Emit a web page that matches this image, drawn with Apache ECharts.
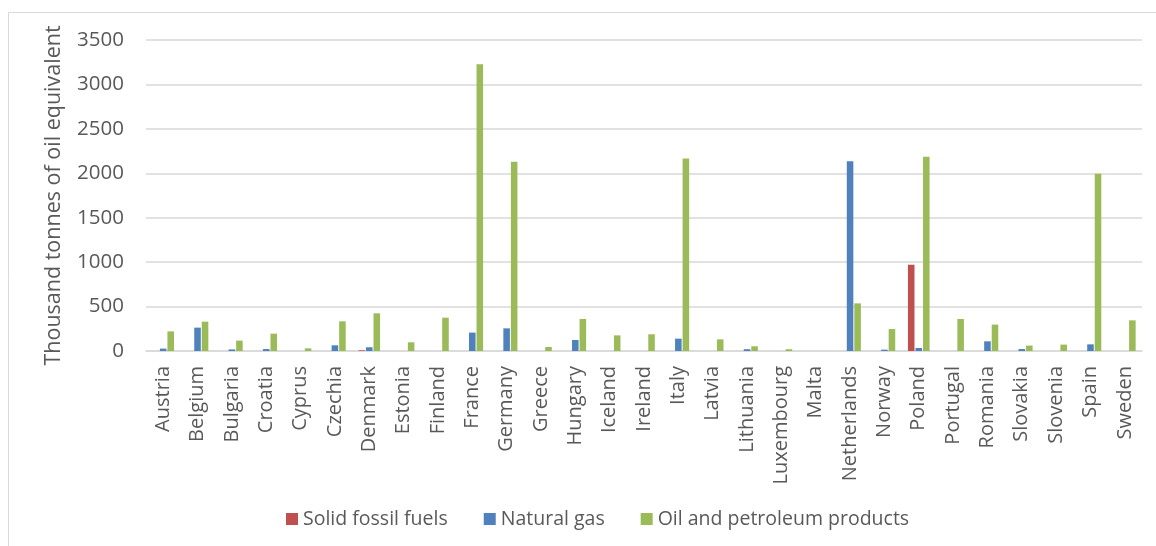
<!DOCTYPE html>
<html>
<head>
<meta charset="utf-8">
<script src="https://cdn.jsdelivr.net/npm/echarts@6/dist/echarts.min.js"></script>
<style>html,body{margin:0;padding:0;background:#fff}#c{width:1156px;height:546px}</style>
</head>
<body>
<div id="c"></div>
<script>
const categories = ["Austria","Belgium","Bulgaria","Croatia","Cyprus","Czechia","Denmark","Estonia","Finland","France","Germany","Greece","Hungary","Iceland","Ireland","Italy","Latvia","Lithuania","Luxembourg","Malta","Netherlands","Norway","Poland","Portugal","Romania","Slovakia","Slovenia","Spain","Sweden"];
const solidFossilFuels = [0,0,0,0,0,0,8,0,0,0,0,0,0,0,0,0,0,0,0,0,0,0,971,0,0,0,0,0,0];
const naturalGas = [27,263,18,22,0,64,42,0,0,207,255,0,124,0,0,139,0,20,0,0,2135,15,34,0,109,22,0,75,0];
const oilPetroleum = [221,330,117,195,30,334,424,98,375,3228,2130,45,360,176,188,2165,131,53,20,0,536,247,2185,360,297,61,72,1995,345];
const seriesNames = ["Solid fossil fuels","Natural gas","Oil and petroleum products"];
const yTicks = {min:0, max:3500, interval:500};
const yTitle = "Thousand tonnes of oil equivalent";

const font = "'Open Sans', sans-serif";
const txt = "#595959";
const chart = echarts.init(document.getElementById('c'), null, {renderer:'canvas'});
const mk = (name, data, color) => ({
  name, type:'bar', data, barGap:'15%', barCategoryGap:'37%',
  itemStyle:{color}, animation:false
});
chart.setOption({
  animation:false,
  graphic:[{type:'rect', shape:{x:8.5,y:12.5,width:1300,height:700}, style:{fill:'none', stroke:'#d9d9d9', lineWidth:1}, silent:true}],
  grid:{left:146, right:14, top:40, bottom:195, containLabel:false},
  legend:{
    data:seriesNames, left:281, top:504, icon:'rect', itemWidth:12, itemHeight:12, itemGap:36,
    textStyle:{fontFamily:font, fontSize:19.5, color:txt}
  },
  xAxis:{
    type:'category', data:categories,
    axisLine:{show:true, lineStyle:{color:'#d9d9d9', width:1.5}},
    axisTick:{show:false},
    axisLabel:{rotate:90, interval:0, margin:15, fontFamily:font, fontSize:20, color:txt}
  },
  yAxis:{
    type:'value', min:yTicks.min, max:yTicks.max, interval:yTicks.interval,
    name:yTitle, nameLocation:'middle', nameGap:81, nameRotate:90,
    nameTextStyle:{fontFamily:font, fontSize:21.5, color:txt},
    axisLine:{show:false}, axisTick:{show:false},
    axisLabel:{margin:22, fontFamily:font, fontSize:20.5, color:txt, formatter:v => String(v)},
    splitLine:{lineStyle:{color:'#d9d9d9', width:1.5}}
  },
  series:[
    mk(seriesNames[0], solidFossilFuels, '#C0504D'),
    mk(seriesNames[1], naturalGas, '#4F81BD'),
    mk(seriesNames[2], oilPetroleum, '#9BBB59')
  ]
});
</script>
</body>
</html>
